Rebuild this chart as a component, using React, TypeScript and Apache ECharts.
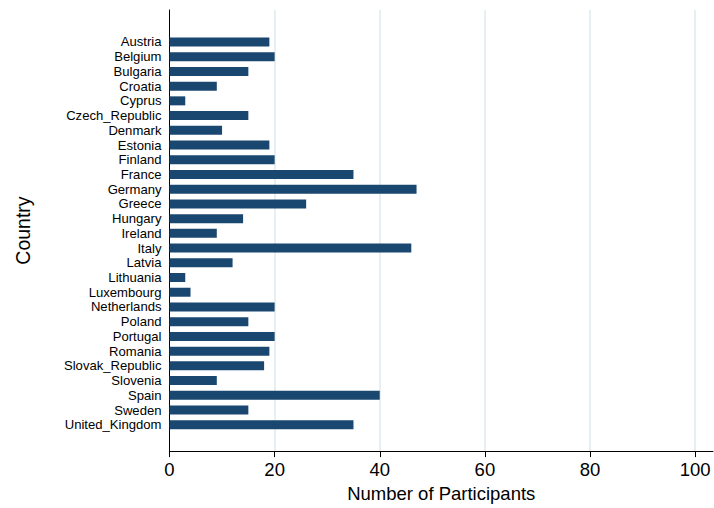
import React, { useEffect, useRef } from "react";
import * as echarts from "echarts";

const countries = [
  "Austria", "Belgium", "Bulgaria", "Croatia", "Cyprus", "Czech_Republic", "Denmark",
  "Estonia", "Finland", "France", "Germany", "Greece", "Hungary", "Ireland", "Italy",
  "Latvia", "Lithuania", "Luxembourg", "Netherlands", "Poland", "Portugal", "Romania",
  "Slovak_Republic", "Slovenia", "Spain", "Sweden", "United_Kingdom",
];
const participants = [
  19, 20, 15, 9, 3, 15, 10, 19, 20, 35, 47, 26, 14, 9, 46, 12, 3, 4, 20, 15, 20, 19, 18, 9, 40, 15, 35,
];
const xTicks = [0, 20, 40, 60, 80, 100];
const X_MAX = 103.4;

const FONT = "'Liberation Sans', Arial, sans-serif";

export default function App() {
  const ref = useRef<HTMLDivElement>(null);
  useEffect(() => {
    if (!ref.current) return;
    const chart = echarts.init(ref.current, null, { renderer: "svg" });
    chart.setOption({
      animation: false,
      backgroundColor: "#ffffff",
      textStyle: { fontFamily: FONT, color: "#000" },
      grid: [
        { left: 169.5, right: 1, top: 10, bottom: 52, containLabel: false },
        { left: 169.5, right: 1, top: 34.6, bottom: 75.9, containLabel: false },
      ],
      xAxis: [
        {
          type: "value",
          gridIndex: 0,
          min: 0,
          max: X_MAX,
          axisLine: { show: true, lineStyle: { color: "#000", width: 1 } },
          axisTick: { show: true, length: 6, customValues: xTicks, lineStyle: { color: "#000" } },
          axisLabel: {
            customValues: xTicks,
            fontSize: 18.5,
            color: "#000",
            fontFamily: FONT,
            margin: 9,
          },
          splitLine: { show: false },
          name: "Number of Participants",
          nameLocation: "middle",
          nameGap: 29,
          nameTextStyle: { fontSize: 18.5, color: "#000", fontFamily: FONT },
        },
        {
          type: "value",
          gridIndex: 1,
          min: 0,
          max: X_MAX,
          show: false,
        },
      ],
      yAxis: [
        {
          type: "value",
          gridIndex: 0,
          min: 0,
          max: 1,
          axisLine: { show: true, lineStyle: { color: "#000", width: 1 } },
          axisTick: { show: false },
          axisLabel: { show: false },
          splitLine: { show: false },
          name: "Country",
          nameLocation: "middle",
          nameGap: 137,
          nameRotate: 90,
          nameTextStyle: { fontSize: 19.5, color: "#000", fontFamily: FONT },
        },
        {
          type: "category",
          gridIndex: 1,
          data: countries,
          inverse: true,
          axisLine: { show: false },
          axisTick: { show: false },
          axisLabel: {
            fontSize: 13.1,
            lineHeight: 13,
            color: "#000",
            fontFamily: FONT,
            margin: 8,
            interval: 0,
          },
          splitLine: { show: false },
        },
      ],
      series: [
        {
          // vertical grid lines drawn as mark lines on the frame grid
          type: "line",
          xAxisIndex: 0,
          yAxisIndex: 0,
          data: [],
          z: 1,
          markLine: {
            silent: true,
            z: 1,
            symbol: "none",
            label: { show: false },
            lineStyle: { color: "#e6eff1", width: 2, type: "solid" },
            data: xTicks.filter((v) => v > 0).map((v) => ({ xAxis: v })),
          },
        },
        {
          type: "bar",
          xAxisIndex: 1,
          yAxisIndex: 1,
          data: participants,
          barWidth: 9,
          z: 5,
          itemStyle: { color: "#1a476f" },
        },
      ],
    });
    return () => chart.dispose();
  }, []);
  return <div ref={ref} style={{ width: 714, height: 508, position: "absolute", left: 0, top: 0 }} />;
}
